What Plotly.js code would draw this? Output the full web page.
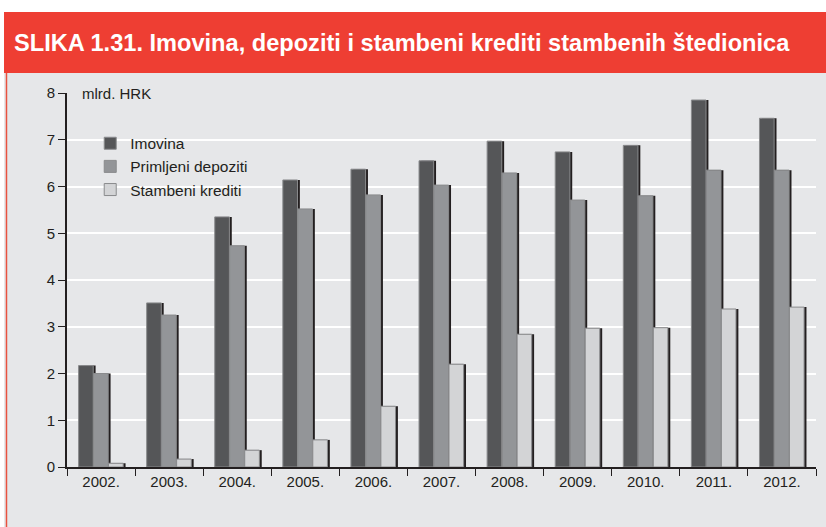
<!DOCTYPE html>
<html><head><meta charset="utf-8">
<script src="https://cdn.plot.ly/plotly-3.0.1.min.js"></script>
<style>html,body{margin:0;padding:0;background:#fff}</style>
</head><body><div id="chart" style="width:826px;height:527px"></div>
<script>
const years = ['2002.','2003.','2004.','2005.','2006.','2007.','2008.','2009.','2010.','2011.','2012.'];
const imovina = [2.17,3.51,5.35,6.14,6.37,6.55,6.97,6.74,6.88,7.85,7.46];
const depoziti = [2.00,3.25,4.73,5.52,5.82,6.03,6.29,5.71,5.80,6.35,6.35];
const krediti = [0.08,0.17,0.36,0.58,1.30,2.20,2.84,2.97,2.98,3.38,3.42];
const names = ['Imovina','Primljeni depoziti','Stambeni krediti'];
const colors = ['#555658','#939598','#d3d4d6'];
const series = [imovina, depoziti, krediti];
const offsets = [-0.33,-0.11,0.11];
const W = 0.215;
const traces = [];
series.forEach((vals,i)=>{
  traces.push({type:'bar', x:years, y:vals, width:W, offset:offsets[i]+0.035,
    marker:{color:'#231f20', line:{width:0}}, showlegend:false, hoverinfo:'skip'});
});
series.forEach((vals,i)=>{
  traces.push({type:'bar', x:years, y:vals, name:names[i], width:W, offset:offsets[i],
    marker:{color:colors[i], line:{color:'#8a8b8d', width:1}}});
});
const bg = '#e6e7e9';
const layout = {
  width:826, height:527,
  margin:{l:67, r:10, t:93, b:60},
  paper_bgcolor:'#ffffff', plot_bgcolor:bg,
  barmode:'overlay',
  font:{family:'Liberation Sans, Arial, sans-serif', size:15, color:'#231f20'},
  xaxis:{type:'category', tickson:'boundaries', ticks:'outside', ticklen:7, tickcolor:'#231f20',
    showline:true, linecolor:'#231f20', linewidth:2, showgrid:false, tickfont:{size:15, color:'#231f20'},
    range:[-0.5,10.5]},
  yaxis:{range:[0,8], dtick:1, ticks:'outside', ticklen:7, tickcolor:'#231f20', showline:true,
    linecolor:'#231f20', linewidth:2, gridcolor:'#ffffff', gridwidth:2, zeroline:false,
    tickfont:{size:15, color:'#231f20'}},
  legend:{x:0.031, y:0.91, xanchor:'left', yanchor:'top', bgcolor:'rgba(0,0,0,0)',
    font:{size:15.5, color:'#231f20'}, tracegroupgap:0, itemwidth:30},
  shapes:[
    {type:'rect', xref:'paper', yref:'paper', x0:-0.0841, x1:1.02, y0:-0.17, y1:1.0535,
      fillcolor:bg, line:{width:0}, layer:'below'},
    {type:'line', xref:'paper', yref:'paper', x0:-0.0808, x1:-0.0808, y0:-0.17, y1:1.0535,
      line:{color:'#e8523f', width:1.5}, layer:'below'},
    {type:'rect', xref:'paper', yref:'paper', x0:-0.0841, x1:1.02, y0:1.0535, y1:1.2166,
      fillcolor:'#ee3e33', line:{width:0}, layer:'below'}
  ],
  annotations:[
    {xref:'paper', yref:'paper', x:-0.073, y:1.134, xanchor:'left', yanchor:'middle', showarrow:false,
      text:'<b>SLIKA 1.31. Imovina, depoziti i stambeni krediti stambenih štedionica</b>',
      font:{family:'Liberation Sans Narrow, Arial Narrow, sans-serif', size:23.6, color:'#ffffff'}},
    {xref:'paper', yref:'paper', x:0.017, y:1.0, xanchor:'left', yanchor:'middle', showarrow:false,
      text:'mlrd. HRK', font:{size:15, color:'#231f20'}}
  ]
};
Plotly.newPlot('chart', traces, layout, {displayModeBar:false, staticPlot:true});
</script></body></html>
